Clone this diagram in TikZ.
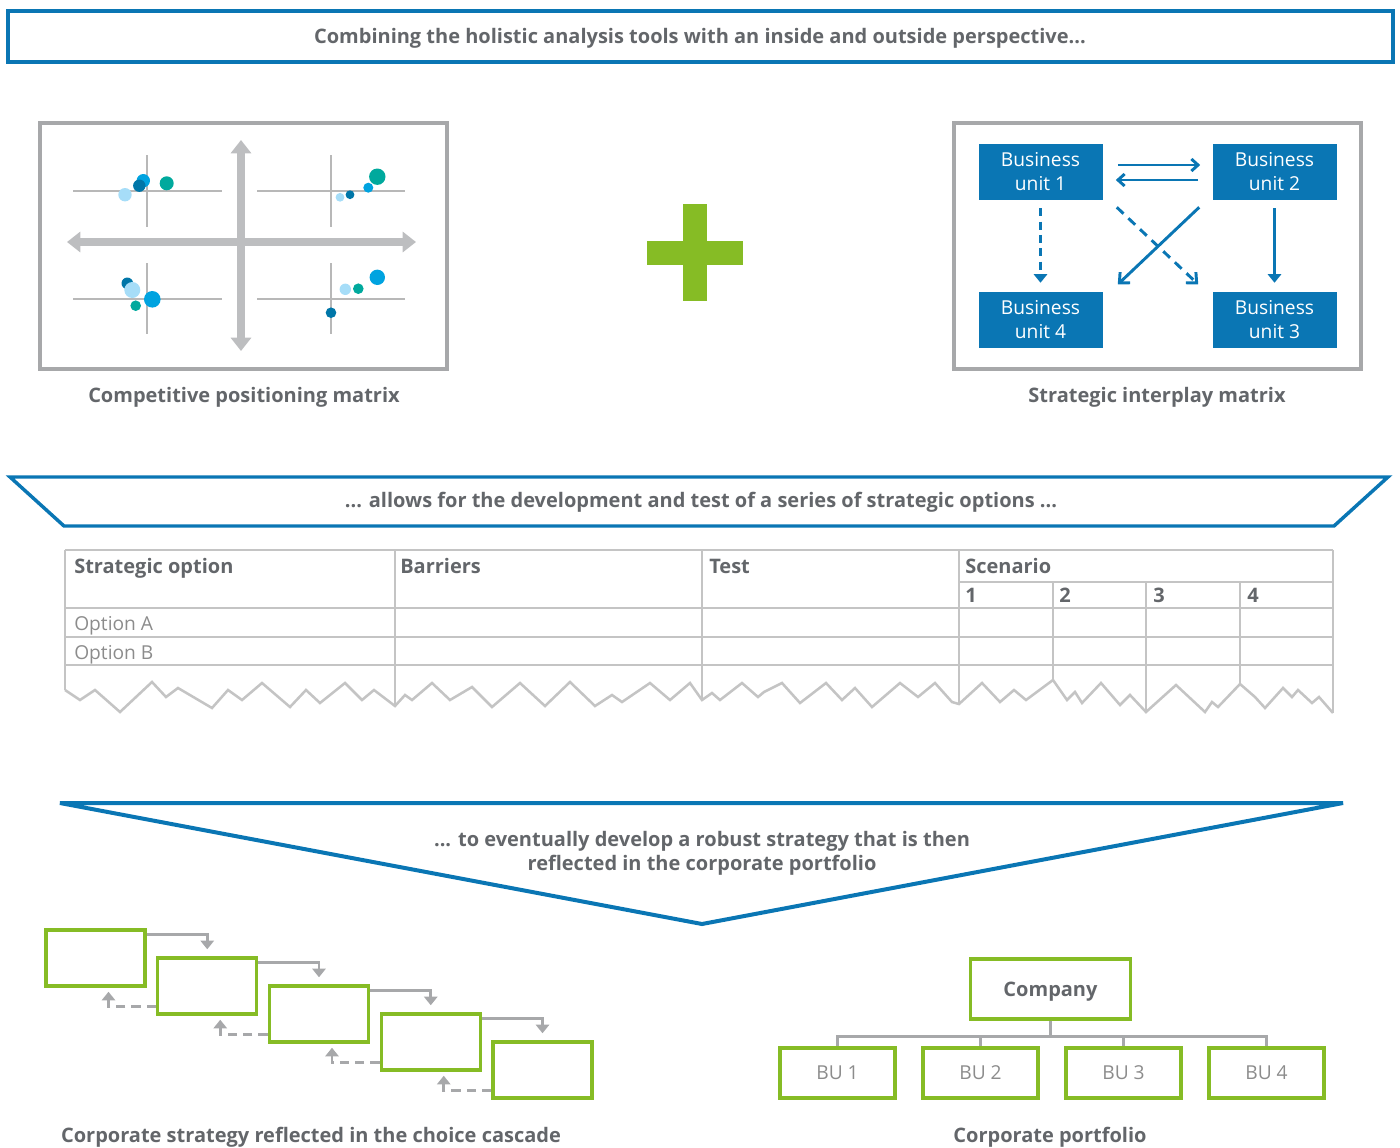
\documentclass[tikz,border=0pt]{standalone}
\usepackage{fontspec}
\setmainfont{Open Sans}
\usetikzlibrary{arrows.meta}
\definecolor{dblue}{HTML}{0A76B4}
\definecolor{dgreen}{HTML}{86BC25}
\definecolor{tgrey}{HTML}{63666A}
\definecolor{ltext}{HTML}{8C8C8C}
\definecolor{pgrey}{HTML}{A7A8AA}
\definecolor{tblgrey}{HTML}{C4C4C4}
\definecolor{axgrey}{HTML}{BDBEC0}
\definecolor{xgrey}{HTML}{B8B8B8}
\definecolor{dotdark}{HTML}{0076A8}
\definecolor{dotbright}{HTML}{00A3E0}
\definecolor{dotlight}{HTML}{A6DDF8}
\definecolor{dotteal}{HTML}{00A99D}
\newcommand\mylbl{\fontsize{15}{18}\selectfont\bfseries}
\newcommand\mybu{\fontsize{14.4}{18}\selectfont}
\begin{document}
\begin{tikzpicture}[x=0.75pt,y=-0.75pt,
  lbl/.style={text=tgrey,font=\mylbl,inner sep=0pt,text depth=0pt},
  bubox/.style={fill=dblue,text=white,font=\mybu,align=center,minimum width=124*0.75pt,minimum height=56*0.75pt,inner sep=0pt},
  barrow/.style={draw=dblue,line width=2.2pt},
  panel/.style={draw=pgrey,line width=2.4pt},
  cross/.style={draw=xgrey,line width=1.1pt},
  bigax/.style={draw=axgrey,line width=6pt,{Triangle[width=15pt,length=10pt]}-{Triangle[width=15pt,length=10pt]}},
  tbl/.style={draw=tblgrey,line width=1.9pt},
  gbox/.style={draw=dgreen,line width=2.6pt,minimum width=99*0.75pt,minimum height=56*0.75pt,inner sep=0pt},
  pbox/.style={draw=dgreen,line width=2.6pt,minimum width=115*0.75pt,minimum height=50*0.75pt,inner sep=0pt,text=ltext,font=\mybu,text depth=0pt},
  garrow/.style={draw=pgrey,line width=1.9pt,-{Triangle[width=10pt,length=6.5pt]}},
  opt/.style={anchor=west,text=ltext,font=\mybu,inner sep=0pt,text depth=0pt}
]
\useasboundingbox (0,0) rectangle (1400,1147);

% ---- title banner
\draw[dblue,line width=2.5pt] (8,11) rectangle (1393,62);
\node[lbl] (title) at (700,36) {Combining the holistic analysis tools with an inside and outside perspective...};

% ---- left panel
\draw[panel] (40,123) rectangle (447,369);
\draw[cross] (73,191) -- (222,191);
\draw[cross] (147,155) -- (147,227);
\draw[cross] (257,191) -- (405,191);
\draw[cross] (331,155) -- (331,227);
\draw[cross] (73,299) -- (222,299);
\draw[cross] (147,263) -- (147,334);
\draw[cross] (257,299) -- (405,299);
\draw[cross] (331,263) -- (331,334);
\draw[bigax] (67,242) -- (416,242);
\draw[bigax] (241,140) -- (241,351);
% dots top-left
\fill[dotlight] (125,194.7) circle (6.7);
\fill[dotbright] (143.3,180.7) circle (6.7);
\fill[dotdark] (139.3,185.7) circle (6.2);
\fill[dotteal] (166.7,183.3) circle (7);
% dots top-right
\fill[dotlight] (340,197.3) circle (4.4);
\fill[dotdark] (350,194.7) circle (4.4);
\fill[dotbright] (368.3,187.7) circle (5);
\fill[dotteal] (377.3,176.7) circle (8.2);
% dots bottom-left
\fill[dotdark] (127.3,283.3) circle (5.8);
\fill[dotlight] (132.3,290) circle (8);
\fill[dotbright] (152.3,299.3) circle (8.3);
\fill[dotteal] (135.7,305.7) circle (5.3);
% dots bottom-right
\fill[dotlight] (345.3,289.3) circle (5.7);
\fill[dotteal] (358.3,288.7) circle (5.3);
\fill[dotbright] (377.3,277.3) circle (7.7);
\fill[dotdark] (331,312.7) circle (5.3);
\node[lbl] (cpm) at (244,395) {Competitive positioning matrix};

% ---- plus
\fill[dgreen] (683.3,204.3) rectangle (707.3,300.7);
\fill[dgreen] (646.7,240.7) rectangle (743.3,265);

% ---- right panel
\draw[panel] (954,123) rectangle (1361,369);
\node[bubox] (bu1) at (1040.5,172) {Business\\unit 1};
\node[bubox] (bu2) at (1274.5,172) {Business\\unit 2};
\node[bubox] (bu4) at (1040.5,319.7) {Business\\unit 4};
\node[bubox] (bu3) at (1274.5,319.7) {Business\\unit 3};
\draw[barrow,-{Straight Barb[length=5pt,width=9pt]}] ([shift={(15,-7)}]bu1.east) -- ([shift={(-12,-7)}]bu2.west);
\draw[barrow,-{Straight Barb[length=5pt,width=9pt]}] ([shift={(-14,8)}]bu2.west) -- ([shift={(13,8)}]bu1.east);
\draw[barrow,dash pattern=on 6pt off 4pt,-{Triangle[length=6.5pt,width=10pt]}] ([yshift=-6pt]bu1.south) -- ([yshift=6.5pt]bu4.north);
\draw[barrow,-{Triangle[length=6.5pt,width=10pt]}] ([yshift=-6pt]bu2.south) -- ([yshift=6.5pt]bu3.north);
\draw[barrow,dash pattern=on 7pt off 5pt,-{Straight Barb[length=6pt,width=11pt]}] ([shift={(14,7)}]bu1.south east) -- ([shift={(-14,-7)}]bu3.north west);
\draw[barrow,-{Straight Barb[length=6pt,width=11pt]}] ([shift={(-13,7)}]bu2.south west) -- ([shift={(15,-7)}]bu4.north east);
\node[lbl] (sim) at (1157,395) {Strategic interplay matrix};

% ---- second banner
\draw[dblue,line width=2.6pt] (10,477) -- (1388,477) -- (1334,526) -- (64,526) -- cycle;
\node[lbl] (b2) at (701,500) {... allows for the development and test of a series of strategic options ...};

% ---- table
\draw[tbl] (65,550) -- (1333,550);
\draw[tbl] (959,582) -- (1333,582);
\draw[tbl] (65,608) -- (1333,608);
\draw[tbl] (65,637) -- (1333,637);
\draw[tbl] (65,665) -- (1333,665);
\draw[tbl] (65,550) -- (65,690);
\draw[tbl] (395,550) -- (395,706);
\draw[tbl] (702,550) -- (702,700);
\draw[tbl] (959,550) -- (959,704);
\draw[tbl] (1053,582) -- (1053,680);
\draw[tbl] (1146,582) -- (1146,712);
\draw[tbl] (1240,582) -- (1240,684);
\draw[tbl] (1333,550) -- (1333,713);
\draw[tbl,line join=miter] (65,690) -- (80,700) -- (95,690) -- (120,712) -- (152,682) -- (166,697) -- (178,688) -- (212,708) -- (228,690) -- (242,700) -- (262,683) -- (290,707) -- (306,690) -- (320,703) -- (345,683) -- (362,700) -- (374,690) -- (395,706)
 -- (405,695) -- (412,700) -- (432,683) -- (450,700) -- (472,687) -- (492,707) -- (520,683) -- (545,706) -- (570,682) -- (595,706) -- (612,695) -- (622,702) -- (650,683) -- (670,700) -- (690,683) -- (702,700)
 -- (712,693) -- (720,700) -- (742,683) -- (758,697) -- (764,692) -- (782,683) -- (800,703) -- (826,683) -- (842,700) -- (855,688) -- (872,707) -- (900,683) -- (918,697) -- (935,683) -- (952,702) -- (959,704)
 -- (982,683) -- (1000,702) -- (1014,690) -- (1026,700) -- (1053,680)
 -- (1067,700) -- (1075,692) -- (1082,703) -- (1101,683) -- (1120,705) -- (1130,695) -- (1146,712)
 -- (1176,685) -- (1205,712) -- (1212,702) -- (1218,707) -- (1240,684)
 -- (1255,697) -- (1265,708) -- (1283,688) -- (1292,697) -- (1298,690) -- (1312,703) -- (1319,697) -- (1333,713);
\node[lbl,anchor=west] (h1) at (74,566) {Strategic option};
\node[lbl,anchor=west] (h2) at (400,566) {Barriers};
\node[lbl,anchor=west] (h3) at (709,566) {Test};
\node[lbl,anchor=west] (h4) at (965,566) {Scenario};
\node[lbl,anchor=west] (s1) at (965,595) {1};
\node[lbl,anchor=west] (s2) at (1059,595) {2};
\node[lbl,anchor=west] (s3) at (1153,595) {3};
\node[lbl,anchor=west] (s4) at (1247,595) {4};
\node[opt] (oa) at (74,623) {Option A};
\node[opt] (ob) at (74,652) {Option B};

% ---- third banner
\draw[dblue,line width=3pt] (60,803) -- (1343,803) -- (702,924) -- cycle;
\node[lbl,align=center] (b3) at (702,851) {... to eventually develop a robust strategy that is then\\reflected in the corporate portfolio};

% ---- cascade
\foreach \i in {0,...,4} {
  \node[gbox] (c\i) at (95.5+111.75*\i,958+28*\i) {};
}
\foreach \i/\j in {0/1,1/2,2/3,3/4} {
  \draw[garrow] ([shift={(0,6)}]c\i.north east) -| ([shift={(0,-7)}]c\j.north);
  \draw[garrow,dash pattern=on 7pt off 4.5pt] ([shift={(0,-9)}]c\j.south west) -| ([shift={(13,4)}]c\i.south);
}
\node[lbl] (ccl) at (311,1135) {Corporate strategy reflected in the choice cascade};

% ---- portfolio
\node[pbox,minimum width=160*0.75pt,minimum height=60*0.75pt,text=tgrey,font=\mylbl] (comp) at (1050.5,989) {Company};
\node[pbox] (p1) at (837.5,1073) {BU 1};
\node[pbox] (p2) at (980.5,1073) {BU 2};
\node[pbox] (p3) at (1123.5,1073) {BU 3};
\node[pbox] (p4) at (1266.5,1073) {BU 4};
\foreach \k in {1,...,4} {
  \draw[pgrey,line width=1.9pt] (comp.south) -- ++(0,16) -| (p\k.north);
}
\node[lbl] (cpl) at (1050,1135) {Corporate portfolio};
\end{tikzpicture}
\end{document}
